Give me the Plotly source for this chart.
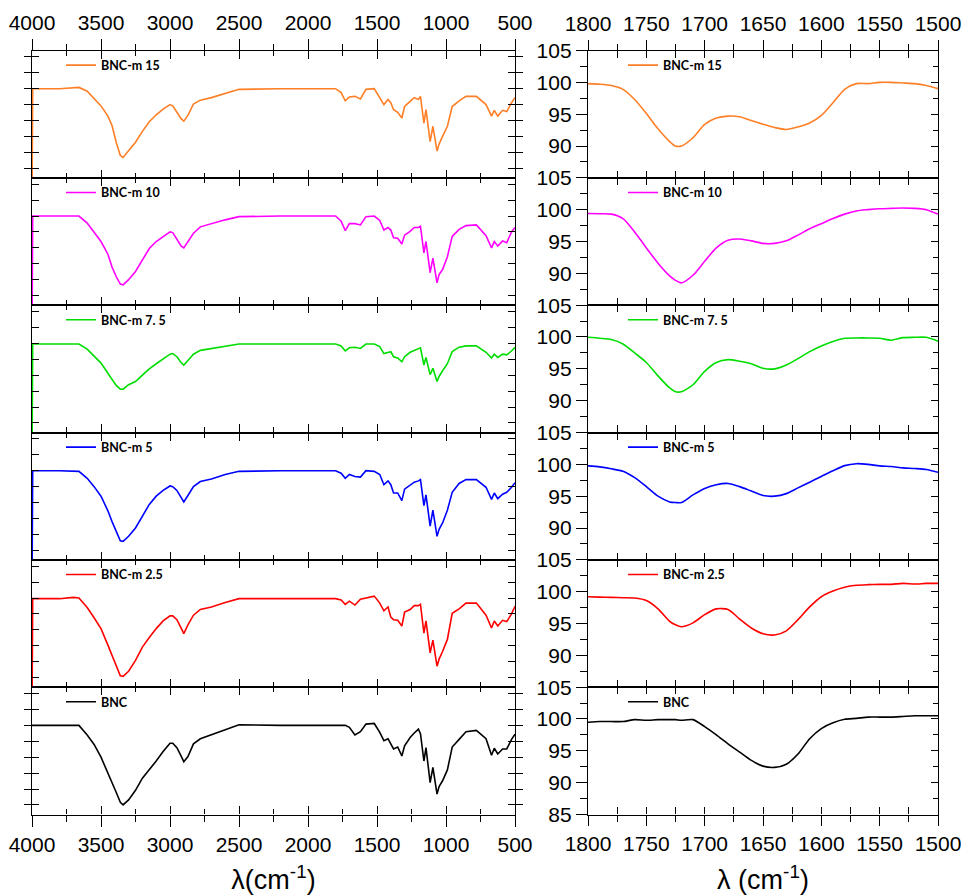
import plotly.graph_objects as go

W, H = 965, 895

# ---------------- data ----------------
names = ["BNC-m 15", "BNC-m 10", "BNC-m 7. 5", "BNC-m 5", "BNC-m 2.5", "BNC"]
colors = ["#ff7f27", "#ff00ff", "#00dd00", "#0000ff", "#ff0000", "#000000"]

# full range wavenumbers (cm-1)
wn_full = [4000, 3995, 3800, 3700, 3660, 3600, 3550, 3500, 3450, 3420, 3390, 3360, 3340,
           3300, 3250, 3200, 3150, 3100, 3050, 3000, 2980, 2950, 2920, 2900, 2870, 2830,
           2780, 2700, 2600, 2500, 2200, 1800, 1760, 1730, 1700, 1660, 1620, 1580, 1520,
           1480, 1450, 1420, 1400, 1380, 1350, 1320, 1300, 1260, 1230, 1200, 1185, 1160,
           1145, 1115, 1095, 1065, 1050, 1025, 990, 955, 905, 855, 780, 710, 670, 650,
           625, 590, 560, 525, 500]

full_m15 = [80, 99.0, 99.0, 99.1, 99.2, 98.6, 97.5, 96.3, 94.7, 93.2, 90.6, 88.5, 88.2,
            89.2, 90.6, 92.3, 93.8, 94.9, 95.8, 96.5, 96.3, 95.3, 94.3, 93.9, 94.8, 96.6,
            97.2, 97.6, 98.2, 98.9, 99.0, 99.0, 98.4, 97.1, 97.7, 97.8, 97.4, 98.9, 99.0,
            97.6, 96.5, 97.3, 96.8, 95.7, 95.3, 94.4, 96.2, 97.0, 97.6, 97.3, 97.8, 93.6,
            95.7, 90.7, 93.1, 89.2, 90.3, 91.5, 93.1, 96.2, 97.1, 97.8, 97.8, 96.5, 94.7,
            95.6, 94.7, 95.6, 95.4, 96.8, 97.6]
full_m10 = [80, 99.0, 99.0, 99.0, 99.0, 97.9, 96.5, 95.0, 93.0, 91.0, 89.5, 88.3, 88.2,
            89.0, 90.3, 92.0, 93.9, 95.0, 95.8, 96.5, 96.4, 95.4, 94.3, 94.0, 95.0, 96.3,
            97.3, 97.8, 98.4, 98.9, 99.0, 99.0, 98.2, 96.7, 97.8, 97.8, 97.6, 98.9, 99.0,
            98.3, 96.8, 97.2, 96.8, 95.6, 95.5, 94.6, 96.0, 96.6, 97.2, 97.2, 97.4, 93.2,
            95.0, 90.1, 92.4, 88.5, 89.8, 90.6, 92.6, 95.8, 96.9, 97.5, 97.6, 95.9, 94.0,
            95.0, 94.3, 95.1, 94.8, 96.5, 97.2]
full_m75 = [80, 98.9, 98.9, 98.9, 98.9, 98.1, 97.0, 95.9, 94.3, 93.3, 92.4, 91.8, 91.8,
            92.5, 93.0, 94.0, 95.0, 95.8, 96.6, 97.3, 97.4, 96.9, 96.0, 95.6, 96.3, 97.3,
            97.9, 98.2, 98.5, 98.9, 98.9, 98.9, 98.6, 97.8, 98.3, 98.4, 98.2, 98.9, 98.9,
            98.5, 97.4, 97.6, 97.7, 96.9, 96.7, 96.1, 96.9, 97.6, 97.9, 98.2, 98.3, 95.6,
            96.8, 94.1, 95.1, 93.0, 93.8, 94.7, 95.8, 97.7, 98.4, 98.6, 98.6, 97.6, 96.7,
            97.3, 96.8, 97.3, 97.2, 97.8, 98.4]
full_m5 = [80, 99.0, 99.0, 99.0, 98.9, 97.8, 96.5, 95.0, 92.7, 91.0, 89.5, 88.0, 87.9,
           88.7, 90.0, 91.8, 93.7, 95.0, 95.9, 96.6, 96.5, 95.9, 94.8, 94.1, 95.1, 96.5,
           97.3, 97.7, 98.4, 98.9, 99.0, 99.0, 98.6, 97.8, 98.4, 98.1, 98.0, 99.0, 98.9,
           98.4, 96.8, 97.4, 96.8, 95.5, 95.5, 94.3, 96.1, 96.7, 97.2, 97.4, 97.6, 93.5,
           95.2, 90.3, 92.8, 88.7, 89.8, 90.8, 92.8, 95.6, 97.0, 97.6, 97.6, 96.4, 94.5,
           95.5, 94.6, 95.3, 95.6, 96.4, 97.1]
full_m25 = [80, 98.9, 98.9, 99.1, 99.0, 97.5, 95.9, 94.2, 91.6, 90.0, 88.2, 86.8, 86.7,
            87.5, 89.2, 91.3, 92.8, 94.2, 95.4, 96.2, 96.2, 95.6, 94.3, 93.4, 94.8, 96.3,
            97.2, 97.6, 98.3, 98.9, 98.9, 98.9, 98.7, 98.0, 98.5, 97.9, 98.8, 99.0, 99.3,
            98.2, 97.0, 97.6, 96.0, 95.6, 95.5, 94.6, 96.8, 97.2, 97.8, 97.8, 98.0, 93.5,
            95.4, 90.4, 92.4, 88.3, 89.4, 90.6, 92.5, 96.6, 97.3, 98.2, 98.2, 96.3, 94.3,
            95.4, 94.6, 95.5, 95.3, 96.5, 97.7]
full_bnc = [99.0, 99.0, 98.9, 99.0, 99.0, 97.5, 96.0, 94.0, 91.6, 90.1, 88.5, 86.9, 86.5,
            87.3, 88.8, 90.7, 92.0, 93.4, 94.9, 96.2, 96.2, 95.5, 94.2, 93.3, 94.1, 96.1,
            96.9, 97.5, 98.3, 99.1, 99.0, 99.0, 99.0, 99.0, 98.7, 97.5, 98.0, 99.2, 99.3,
            97.9, 96.6, 96.9, 96.1, 95.3, 95.6, 94.2, 95.8, 97.1, 97.8, 98.4, 97.7, 93.4,
            95.5, 90.0, 92.4, 88.2, 89.4, 90.3, 92.0, 95.6, 96.8, 98.0, 98.2, 96.9, 94.3,
            95.4, 94.5, 95.3, 95.3, 96.8, 97.6]

# zoomed region wavenumbers (cm-1)
wn_zoom = [1800, 1790, 1780, 1770, 1760, 1750, 1740, 1730, 1725, 1720, 1710, 1700, 1690,
           1680, 1670, 1660, 1650, 1640, 1630, 1620, 1610, 1600, 1590, 1580, 1570, 1560,
           1550, 1540, 1530, 1520, 1510, 1500]

zoom_m15 = [99.8, 99.7, 99.5, 98.9, 97.3, 95.1, 92.7, 90.7, 90.0, 90.0, 91.3, 93.4, 94.4,
            94.7, 94.6, 94.0, 93.4, 92.9, 92.6, 93.0, 93.6, 94.8, 96.8, 98.9, 99.8, 99.8,
            100.0, 100.0, 99.9, 99.8, 99.5, 99.0]
zoom_m10 = [99.4, 99.35, 99.3, 98.6, 96.5, 94.0, 91.6, 89.6, 88.9, 88.5, 89.7, 91.9, 94.0,
            95.2, 95.4, 95.1, 94.7, 94.7, 95.1, 96.0, 97.0, 97.8, 98.6, 99.3, 99.8, 100.0,
            100.15, 100.2, 100.25, 100.2, 100.0, 99.3]
zoom_m75 = [99.95, 99.8, 99.6, 98.9, 97.5, 96.0, 93.9, 92.0, 91.4, 91.4, 92.5, 94.6, 96.0,
            96.45, 96.2, 95.8, 95.1, 95.0, 95.6, 96.6, 97.7, 98.6, 99.3, 99.8, 99.85, 99.85,
            99.8, 99.5, 99.9, 99.95, 99.95, 99.35]
zoom_m5 = [99.75, 99.6, 99.3, 98.9, 97.9, 96.5, 95.0, 94.1, 94.0, 94.0, 95.2, 96.2, 96.8,
           97.0, 96.5, 95.8, 95.1, 95.0, 95.4, 96.3, 97.2, 98.1, 99.0, 99.8, 100.1, 100.0,
           99.75, 99.65, 99.45, 99.35, 99.2, 98.75]
zoom_m25 = [99.2, 99.15, 99.1, 99.05, 99.0, 98.6, 97.3, 95.35, 94.8, 94.5, 95.1, 96.4, 97.3,
            97.2, 95.7, 94.3, 93.4, 93.2, 93.85, 95.6, 97.6, 99.2, 100.1, 100.7, 101.0, 101.1,
            101.15, 101.15, 101.3, 101.2, 101.3, 101.3]
zoom_bnc = [99.5, 99.6, 99.6, 99.6, 99.9, 99.8, 99.9, 99.9, 99.9, 99.8, 99.9, 98.8, 97.5,
            96.1, 94.8, 93.5, 92.6, 92.4, 92.9, 94.5, 96.9, 98.5, 99.4, 99.95, 100.1, 100.3,
            100.3, 100.3, 100.4, 100.5, 100.5, 100.5]

full_series = [full_m15, full_m10, full_m75, full_m5, full_m25, full_bnc]
zoom_series = [zoom_m15, zoom_m10, zoom_m75, zoom_m5, zoom_m25, zoom_bnc]

# ---------------- layout geometry ----------------
L_DOM = [32 / W, 515 / W]
R_DOM = [588 / W, 938 / W]
TOP, BOT = 50.5, 814.5
PH = (BOT - TOP) / 6


def ydom(i):
    return [1 - (TOP + (i + 1) * PH) / H, 1 - (TOP + i * PH) / H]


TICKFONT = dict(family="Liberation Sans, Arial", size=21, color="black")
AX = dict(showgrid=False, zeroline=False, tickcolor="black", tickwidth=1.3)

fig = go.Figure()
layout = dict(width=W, height=H, margin=dict(l=0, r=0, t=0, b=0, autoexpand=False),
              paper_bgcolor="white", plot_bgcolor="white", showlegend=True)

for col in range(2):
    for i in range(6):
        n = col * 6 + i + 1
        lk = "legend" if n == 1 else f"legend{n}"
        if col == 0:
            xs, ys = wn_full, full_series[i]
            shape = "linear"
        else:
            xs, ys = wn_zoom, zoom_series[i]
            shape = "spline"
        fig.add_trace(go.Scatter(
            x=xs, y=ys, mode="lines", name=names[i],
            line=dict(color=colors[i], width=1.6, shape=shape, smoothing=0.7),
            xaxis=f"x{n}", yaxis=f"y{n}", legend=lk, hoverinfo="skip"))

        dom = ydom(i)
        if col == 0:
            xa = dict(AX, domain=L_DOM, range=[4000, 500], anchor=f"y{n}",
                      tick0=500, dtick=500, ticks="inside", ticklen=8,
                      minor=dict(tick0=500, dtick=250, ticks="inside", ticklen=5,
                                 tickcolor="black", tickwidth=1.3, showgrid=False),
                      mirror="allticks", showline=True, linecolor="black", linewidth=1.4,
                      showticklabels=False)
            ya = dict(AX, domain=dom, range=[85, 105], anchor=f"x{n}",
                      tick0=86.5, dtick=2.5, ticks="inside", ticklen=7,
                      mirror="allticks", showline=True, linecolor="black", linewidth=1.4,
                      showticklabels=False)
            lx = 61 / W
        else:
            xa = dict(AX, domain=R_DOM, range=[1800, 1500], anchor=f"y{n}",
                      tick0=1500, dtick=50, ticks="inside", ticklen=7,
                      minor=dict(tick0=1500, dtick=25, ticks="inside", ticklen=4,
                                 tickcolor="black", tickwidth=1.3, showgrid=False),
                      mirror="allticks", showline=True, linecolor="black", linewidth=1.4,
                      showticklabels=False)
            tv = [85, 90, 95, 100, 105] if i == 5 else [90, 95, 100, 105]
            ya = dict(AX, domain=dom, range=[85, 105], anchor=f"x{n}",
                      tickmode="array", tickvals=tv, ticktext=[str(v) for v in tv],
                      ticks="outside", ticklen=11,
                      minor=dict(tickmode="linear", tick0=85, dtick=2.5, ticks="outside",
                                 ticklen=7, tickcolor="black", tickwidth=1.3, showgrid=False),
                      mirror=True, showline=True, linecolor="black", linewidth=1.4,
                      showticklabels=True, tickfont=TICKFONT)
            lx = 623 / W
        layout[f"xaxis{n}"] = xa
        layout[f"yaxis{n}"] = ya
        layout[lk] = dict(x=lx, y=dom[1], xanchor="left", yanchor="top",
                          bgcolor="rgba(0,0,0,0)", borderwidth=0,
                          font=dict(family="Lato, Open Sans, sans-serif", size=12.5,
                                    color="black", weight="bold"))

# outside tick axes (top and bottom of each column) carrying the tick labels
TITLE_FONT = dict(family="Liberation Sans, Arial", size=27, color="black")
extra_x = [
    (13, 1, "top", L_DOM, [4000, 500], 500, 250, None),
    (14, 6, "bottom", L_DOM, [4000, 500], 500, 250, "λ(cm<sup>-1</sup>)"),
    (15, 7, "top", R_DOM, [1800, 1500], 50, 25, None),
    (16, 12, "bottom", R_DOM, [1800, 1500], 50, 25, "λ (cm<sup>-1</sup>)"),
]
for ax_id, base, side, xdom, rng, dt, mdt, title in extra_x:
    d = dict(AX, overlaying=f"x{base}", anchor=f"y{base}", side=side, domain=xdom,
             range=rng, tick0=rng[1], dtick=dt, ticks="outside",
             ticklen=11 if base <= 6 else 10,
             minor=dict(tick0=rng[1], dtick=mdt, ticks="outside", ticklen=6,
                        tickcolor="black", tickwidth=1.3, showgrid=False),
             showline=False, showticklabels=True, tickfont=TICKFONT)
    if title:
        d["title"] = dict(text=title, font=TITLE_FONT, standoff=24)
    layout[f"xaxis{ax_id}"] = d
    fig.add_trace(go.Scatter(x=[None], y=[None], xaxis=f"x{ax_id}", yaxis=f"y{base}",
                             showlegend=False, hoverinfo="skip"))

# right-side inside ticks for the zoomed column
for i in range(6):
    base = 7 + i
    ax_id = 13 + i
    layout[f"yaxis{ax_id}"] = dict(AX, overlaying=f"y{base}", anchor=f"x{base}",
                                   side="right", domain=ydom(i), range=[85, 105],
                                   tick0=85, dtick=5, ticks="inside", ticklen=7,
                                   minor=dict(tick0=85, dtick=2.5, ticks="inside", ticklen=5,
                                              tickcolor="black", tickwidth=1.3,
                                              showgrid=False),
                                   showline=False, showticklabels=False)
    fig.add_trace(go.Scatter(x=[None], y=[None], xaxis=f"x{base}", yaxis=f"y{ax_id}",
                             showlegend=False, hoverinfo="skip"))

fig.update_layout(**layout)
fig.write_html("out.html",
               config={"displayModeBar": False},
               post_script="document.body.style.margin='0px';"
                           "document.body.style.overflow='hidden';")
